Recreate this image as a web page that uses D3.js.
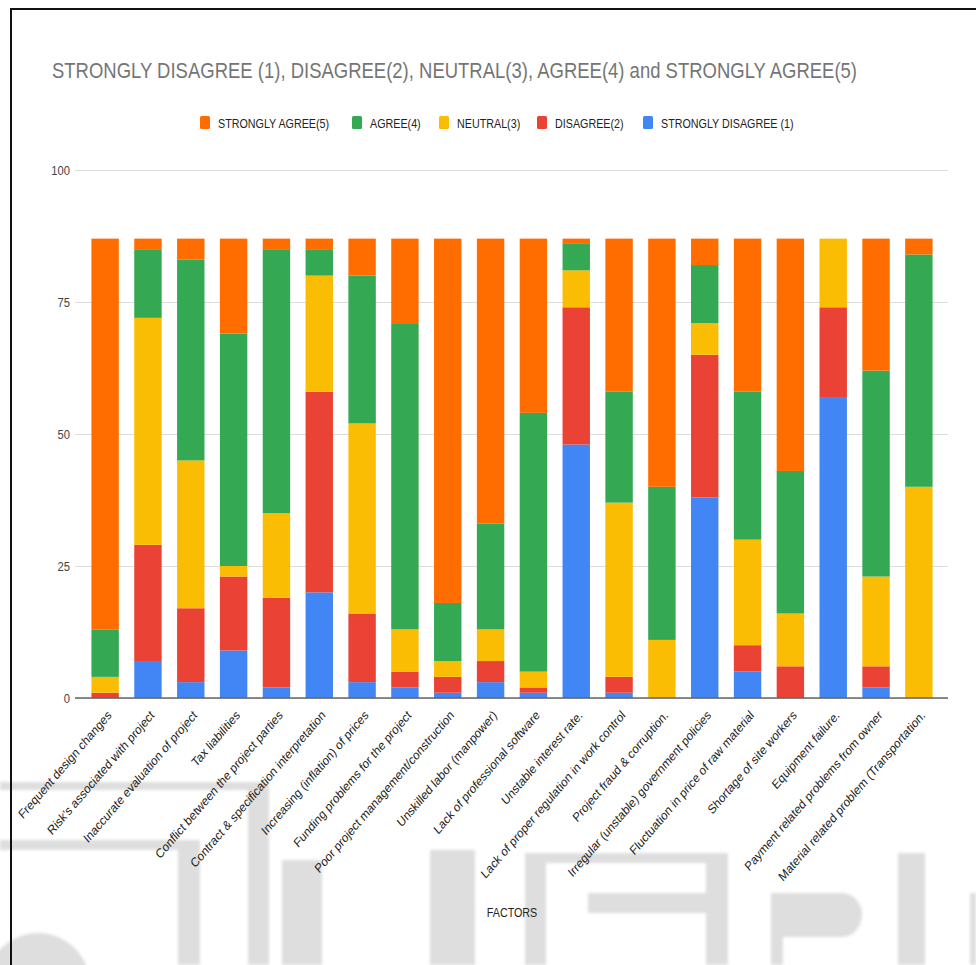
<!DOCTYPE html>
<html>
<head>
<meta charset="utf-8">
<script src="https://cdn.jsdelivr.net/npm/d3@7"></script>
<style>
  html, body { margin: 0; padding: 0; background: #fff; }
  svg { display: block; font-family: Arial, "Liberation Sans", sans-serif; }
</style>
</head>
<body>
<svg id="chart" width="976" height="965"></svg>
<script>
const categories = [
  "Frequent design changes",
  "Risk's associated with project",
  "Inaccurate evaluation of project",
  "Tax liabilities",
  "Conflict between the project parties",
  "Contract & specification interpretation",
  "Increasing (inflation) of prices",
  "Funding problems for the project",
  "Poor project management/construction",
  "Unskilled labor (manpower)",
  "Lack of professional software",
  "Unstable interest rate.",
  "Lack of proper regulation in work control",
  "Project fraud & corruption.",
  "Irregular (unstable) government policies",
  "Fluctuation in price of raw material",
  "Shortage of site workers",
  "Equipment failure.",
  "Payment related problems from owner",
  "Material related problem (Transportation."
];
const stronglyDisagree = [0, 7, 3, 9, 2, 20, 3, 2, 1, 3, 1, 48, 1, 0, 38, 5, 0, 57, 2, 0];
const disagree         = [1, 22, 14, 14, 17, 38, 13, 3, 3, 4, 1, 26, 3, 0, 27, 5, 6, 17, 4, 0];
const neutral          = [3, 43, 28, 2, 16, 22, 36, 8, 3, 6, 3, 7, 33, 11, 6, 20, 10, 13, 17, 40];
const agree            = [9, 13, 38, 44, 50, 5, 28, 58, 11, 20, 49, 5, 21, 29, 11, 28, 27, 0, 39, 44];
const stronglyAgree    = [74, 2, 4, 18, 2, 2, 7, 16, 69, 54, 33, 1, 29, 47, 5, 29, 44, 0, 25, 3];
const yTicks = [0, 25, 50, 75, 100];
const title = "STRONGLY DISAGREE (1), DISAGREE(2), NEUTRAL(3), AGREE(4) and STRONGLY AGREE(5)";
const xTitle = "FACTORS";
const seriesNames = ["STRONGLY DISAGREE (1)", "DISAGREE(2)", "NEUTRAL(3)", "AGREE(4)", "STRONGLY AGREE(5)"];
const seriesColors = ["#4285F4", "#EA4335", "#FBBC04", "#34A853", "#FF6D01"];
const legendOrder = [4, 3, 2, 1, 0];

const seriesValues = [stronglyDisagree, disagree, neutral, agree, stronglyAgree];
const rows = categories.map((c, i) => {
  const r = { cat: c };
  seriesNames.forEach((s, k) => r[s] = seriesValues[k][i]);
  return r;
});

const svg = d3.select("#chart");
const SX = 0.86; // horizontal squeeze of the reference image

// watermark (faint background logo)
const defs = svg.append("defs");
defs.append("filter").attr("id", "soft").append("feGaussianBlur").attr("stdDeviation", 1.6);
const wm = svg.append("g").attr("fill", "#dedede").attr("filter", "url(#soft)");
[[0,782,262,8],[248,782,21,183],[0,840,196,10],[178,840,22,125],[282,860,40,105],[430,850,45,115],
 [525,853,200,10],[525,853,21,112],[706,853,22,112],[588,893,130,20],[771,893,12,72],[898,853,27,112],[970,893,6,72]]
  .forEach(d => wm.append("rect").attr("x", d[0]).attr("y", d[1]).attr("width", d[2]).attr("height", d[3]));
wm.append("path").attr("d", "M771,893 H842 A20,22 0 0 1 842,937 H771 Z");
wm.append("circle").attr("cx", 38).attr("cy", 985).attr("r", 52);

// frame
svg.append("line").attr("x1", 10).attr("x2", 976).attr("y1", 9).attr("y2", 9).attr("stroke", "#111").attr("stroke-width", 2);
svg.append("line").attr("x1", 11).attr("x2", 11).attr("y1", 8).attr("y2", 965).attr("stroke", "#111").attr("stroke-width", 2);

const x = d3.scaleBand().domain(categories).range([76, 948]).paddingInner(0.36).paddingOuter(0.36);
const y = d3.scaleLinear().domain([0, 100]).range([698, 170]);

// grid
const yAxis = d3.axisLeft(y).tickValues(yTicks).tickSize(-(948 - 75)).tickPadding(6);
const gy = svg.append("g").attr("transform", "translate(75,0)").call(yAxis);
gy.select(".domain").remove();
gy.selectAll(".tick line").attr("stroke", "#dcdcdc").attr("stroke-width", 1);
gy.selectAll(".tick text").attr("fill", "#444").attr("font-size", 13)
  .attr("x", 0).attr("dy", "0.35em")
  .attr("transform", "translate(-5,0) scale(" + SX + ",1)");

// bars
const stack = d3.stack().keys(seriesNames)(rows);
svg.append("g").selectAll("g").data(stack).join("g")
  .attr("fill", (d, i) => seriesColors[i])
  .selectAll("rect").data(d => d).join("rect")
  .attr("x", d => x(d.data.cat))
  .attr("width", x.bandwidth())
  .attr("y", d => y(d[1]))
  .attr("height", d => y(d[0]) - y(d[1]));

// baseline
svg.append("line").attr("x1", 75).attr("x2", 948).attr("y1", y(0)).attr("y2", y(0))
  .attr("stroke", "#666").attr("stroke-width", 1.5);

// x labels
svg.append("g").selectAll("text").data(categories).join("text")
  .attr("transform", d => "translate(" + (x(d) + x.bandwidth() / 2 + 7) + ",716) scale(" + SX + ",1) rotate(-45)")
  .attr("text-anchor", "end").attr("font-size", 13).attr("fill", "#222")
  .text(d => d);

// x title
svg.append("text").attr("transform", "translate(512,917) scale(" + SX + ",1)")
  .attr("text-anchor", "middle").attr("font-size", 12.5).attr("fill", "#222").text(xTitle);

// title
svg.append("text").attr("transform", "translate(52,78) scale(" + SX + ",1)")
  .attr("font-size", 21.5).attr("fill", "#757575").text(title);

// legend
const legendX = [200, 352, 439, 537, 643];
const lg = svg.append("g");
legendOrder.forEach((k, j) => {
  lg.append("rect").attr("x", legendX[j]).attr("y", 116).attr("width", 10).attr("height", 13)
    .attr("rx", 1.5).attr("fill", seriesColors[k]);
  lg.append("text").attr("transform", "translate(" + (legendX[j] + 18) + ",127.5) scale(" + SX + ",1)")
    .attr("font-size", 12.5).attr("fill", "#222").text(seriesNames[k]);
});
</script>
</body>
</html>
